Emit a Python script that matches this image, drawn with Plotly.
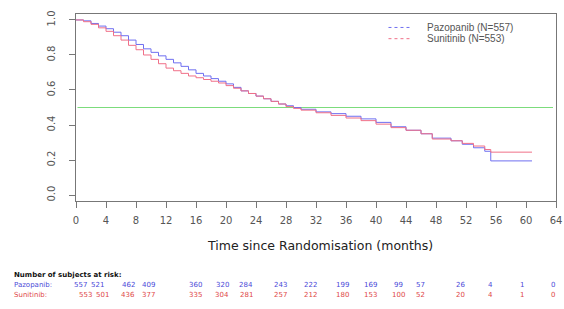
import plotly.graph_objects as go

# ---- data ----
months = [0, 1, 2, 3, 4, 5, 6, 7, 8, 9, 10, 11, 12, 13, 14, 15, 16, 17, 18, 19, 20,
          21, 22, 23, 24, 25, 26, 27, 28, 29, 30, 32, 34, 36, 38, 40, 42, 44, 46,
          47.5, 50, 51.5, 53, 54.5, 55.3, 60.8]
pazopanib_surv = [1.00, 0.995, 0.98, 0.965, 0.95, 0.93, 0.91, 0.885, 0.86, 0.835, 0.815,
                  0.795, 0.775, 0.755, 0.735, 0.715, 0.695, 0.68, 0.665, 0.65, 0.635,
                  0.615, 0.595, 0.58, 0.565, 0.55, 0.535, 0.52, 0.51, 0.50, 0.49, 0.475,
                  0.465, 0.45, 0.435, 0.415, 0.39, 0.37, 0.35, 0.325, 0.31, 0.29, 0.27,
                  0.25, 0.195, 0.195]
sunitinib_surv = [1.00, 0.99, 0.975, 0.955, 0.935, 0.91, 0.885, 0.855, 0.83, 0.80, 0.775,
                  0.75, 0.725, 0.71, 0.695, 0.68, 0.67, 0.66, 0.65, 0.64, 0.625, 0.61,
                  0.595, 0.58, 0.565, 0.55, 0.535, 0.52, 0.505, 0.495, 0.485, 0.47, 0.455,
                  0.44, 0.425, 0.405, 0.385, 0.37, 0.35, 0.32, 0.31, 0.295, 0.28, 0.26,
                  0.245, 0.245]

risk_times = [0, 4, 8, 12, 16, 20, 24, 28, 32, 36, 40, 44, 48, 52, 56, 60, 64]
pazopanib_risk = [557, 521, 462, 409, 360, 320, 284, 243, 222, 199, 169, 99, 57, 26, 4, 1, 0]
sunitinib_risk = [553, 501, 436, 377, 335, 304, 281, 257, 212, 180, 153, 100, 52, 20, 4, 1, 0]

series_names = ["Pazopanib (N=557)", "Sunitinib (N=553)"]
row_labels = ["Pazopanib:", "Sunitinib:"]
x_ticks = list(range(0, 65, 4))
y_ticks = [0.0, 0.2, 0.4, 0.6, 0.8, 1.0]
median_line = 0.5

# ---- styles / layout offsets ----
BLUE = "#6f6ff0"
RED = "#f07088"
BLUE_TXT = "#4a4ad8"
RED_TXT = "#e04848"
risk_xshift_paz = [4, -9, -8, -18, -1, -4, -10, -6, -6, -4, -6, -8, -16, -6, -6, -4, -3]
risk_xshift_sun = [9, -4, -8, -18, -1, -4, -10, -6, -6, -4, -6, -8, -16, -6, -6, -4, -3]

fig = go.Figure()

fig.add_trace(go.Scatter(x=[0.2, 63.6], y=[median_line, median_line], mode="lines",
                         line=dict(color="#7cdc7c", width=1), hoverinfo="skip",
                         showlegend=False))

fig.add_trace(go.Scatter(x=months, y=pazopanib_surv, mode="lines", line_shape="hv",
                         line=dict(color=BLUE, width=1), name=series_names[0],
                         showlegend=False))
fig.add_trace(go.Scatter(x=months, y=sunitinib_surv, mode="lines", line_shape="hv",
                         line=dict(color=RED, width=1), name=series_names[1],
                         showlegend=False))

# legend (drawn manually for compact spacing)
legend_rows = [(0.928, BLUE), (0.868, RED)]
for (yy, col), name in zip(legend_rows, series_names):
    fig.add_shape(type="line", xref="paper", yref="paper", x0=0.651, x1=0.697,
                  y0=yy, y1=yy, line=dict(color=col, width=1, dash="dot"))
    fig.add_annotation(xref="paper", yref="paper", x=0.727, y=yy, text=name,
                       showarrow=False, xanchor="left", yanchor="middle",
                       font=dict(family="Liberation Sans, Arial", size=10, color="#555555"))

fig.add_annotation(xref="paper", yref="paper", x=0.508, y=-0.24,
                   text="Time since Randomisation (months)", showarrow=False,
                   xanchor="center", yanchor="middle",
                   font=dict(family="DejaVu Sans", size=12.5, color="#222222"))

# number at risk table
fig.add_annotation(xref="paper", yref="paper", x=-0.134, y=-0.395,
                   text="<b>Number of subjects at risk:</b>", showarrow=False,
                   xanchor="left", yanchor="middle",
                   font=dict(family="DejaVu Sans", size=7, color="#111111"))
for lab, vals, col, ypos, shifts in [
        (row_labels[0], pazopanib_risk, BLUE_TXT, -0.449, risk_xshift_paz),
        (row_labels[1], sunitinib_risk, RED_TXT, -0.505, risk_xshift_sun)]:
    fig.add_annotation(xref="paper", yref="paper", x=-0.134, y=ypos, text=lab,
                       showarrow=False, xanchor="left", yanchor="middle",
                       font=dict(family="DejaVu Sans", size=7, color=col))
    for t, v, sh in zip(risk_times, vals, shifts):
        fig.add_annotation(xref="x", yref="paper", x=t, y=ypos, text=str(v),
                           xshift=sh, showarrow=False, xanchor="center",
                           yanchor="middle",
                           font=dict(family="DejaVu Sans", size=7, color=col))

axis_common = dict(showline=True, linecolor="#777777", linewidth=1, mirror=True,
                   ticks="outside", ticklen=6, tickcolor="#777777", showgrid=False,
                   zeroline=False, automargin=False,
                   tickfont=dict(family="DejaVu Sans", size=10, color="#555555"))

fig.update_xaxes(range=[0, 64], tickvals=x_ticks, ticktext=[str(t) for t in x_ticks],
                 ticklabelstandoff=4, **axis_common)
fig.update_yaxes(range=[-0.034, 1.034], tickvals=y_ticks,
                 ticktext=[f"{v:.1f}" for v in y_ticks], tickangle=-90,
                 ticklabelstandoff=10, **axis_common)

fig.update_layout(width=564, height=309, margin=dict(l=76, r=8, t=14, b=108),
                  plot_bgcolor="white", paper_bgcolor="white", showlegend=False)

fig.write_html("out.html", config={"displayModeBar": False},
               post_script="document.body.style.margin='0';document.body.style.overflow='hidden';")
